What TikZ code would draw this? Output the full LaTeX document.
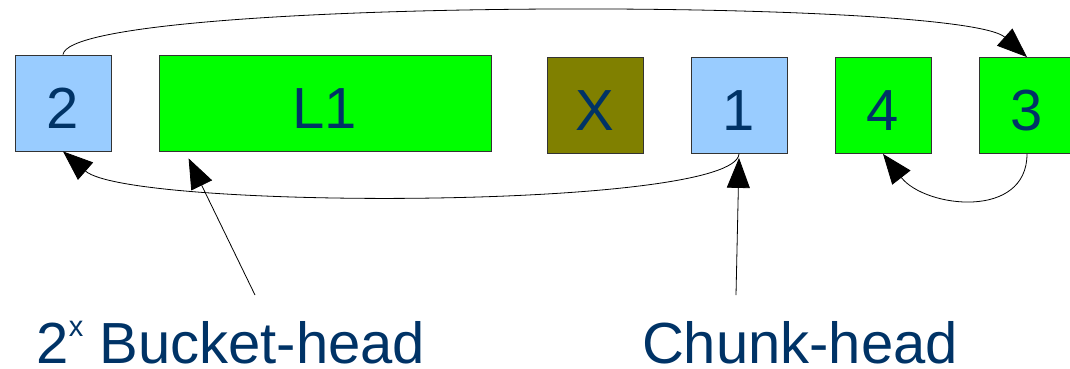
\documentclass[tikz,border=0pt]{standalone}
\usepackage{fontspec}
\setmainfont{Liberation Sans}
\usetikzlibrary{arrows.meta}

\definecolor{cellblue}{HTML}{99CCFF}
\definecolor{cellgreen}{HTML}{00FF00}
\definecolor{cellolive}{HTML}{808000}
\definecolor{textblue}{HTML}{003366}

\begin{document}
\begin{tikzpicture}[x=1pt,y=-1pt,
	cell/.style={draw=black!80,line width=0.8pt,minimum width=96pt,minimum height=96pt,inner sep=0pt,
		text height=50pt,text depth=0pt,text=textblue,font=\fontsize{58}{60}\selectfont},
	tag/.style={anchor=base,inner sep=0pt,text=textblue,font=\fontsize{58}{60}\selectfont},
	link/.style={-{Triangle[length=30pt,width=23pt]},line width=0.8pt}]
	\useasboundingbox (0,0) rectangle (1070,368);
	% chunks in memory
	\node[cell,fill=cellblue] (two) at (63,103) {2};
	\node[cell,fill=cellgreen,minimum width=332pt] (L1) at (325,103) {L1};
	\node[cell,fill=cellolive] (X) at (595,105.5) {X};
	\node[cell,fill=cellblue] (one) at (739,105.5) {1};
	\node[cell,fill=cellgreen] (four) at (883,105.5) {4};
	\node[cell,fill=cellgreen] (three) at (1027,105.5) {3};
	% list links
	\draw[link] (two.north) .. controls (70,-3) and (960,-3) .. (three.north);
	\draw[link] (one.south) .. controls (735,210) and (130,210) .. (two.south);
	\draw[link] (three.south) .. controls (1027,220) and (925,208) .. (four.south);
	% heads
	\node[tag] (bucket) at (231,363) {2\raisebox{27pt}{\fontsize{29}{30}\selectfont x} Bucket-head};
	\node[tag] (chunk) at (800,363) {Chunk-head};
	\coordinate (bh) at (255,295);
	\coordinate (ch) at (736,295);
	\draw[link] (bh) -- ([xshift=30pt,yshift=-7pt]L1.south west);
	\draw[link] (ch) -- ([yshift=-4pt]one.south);
\end{tikzpicture}
\end{document}
